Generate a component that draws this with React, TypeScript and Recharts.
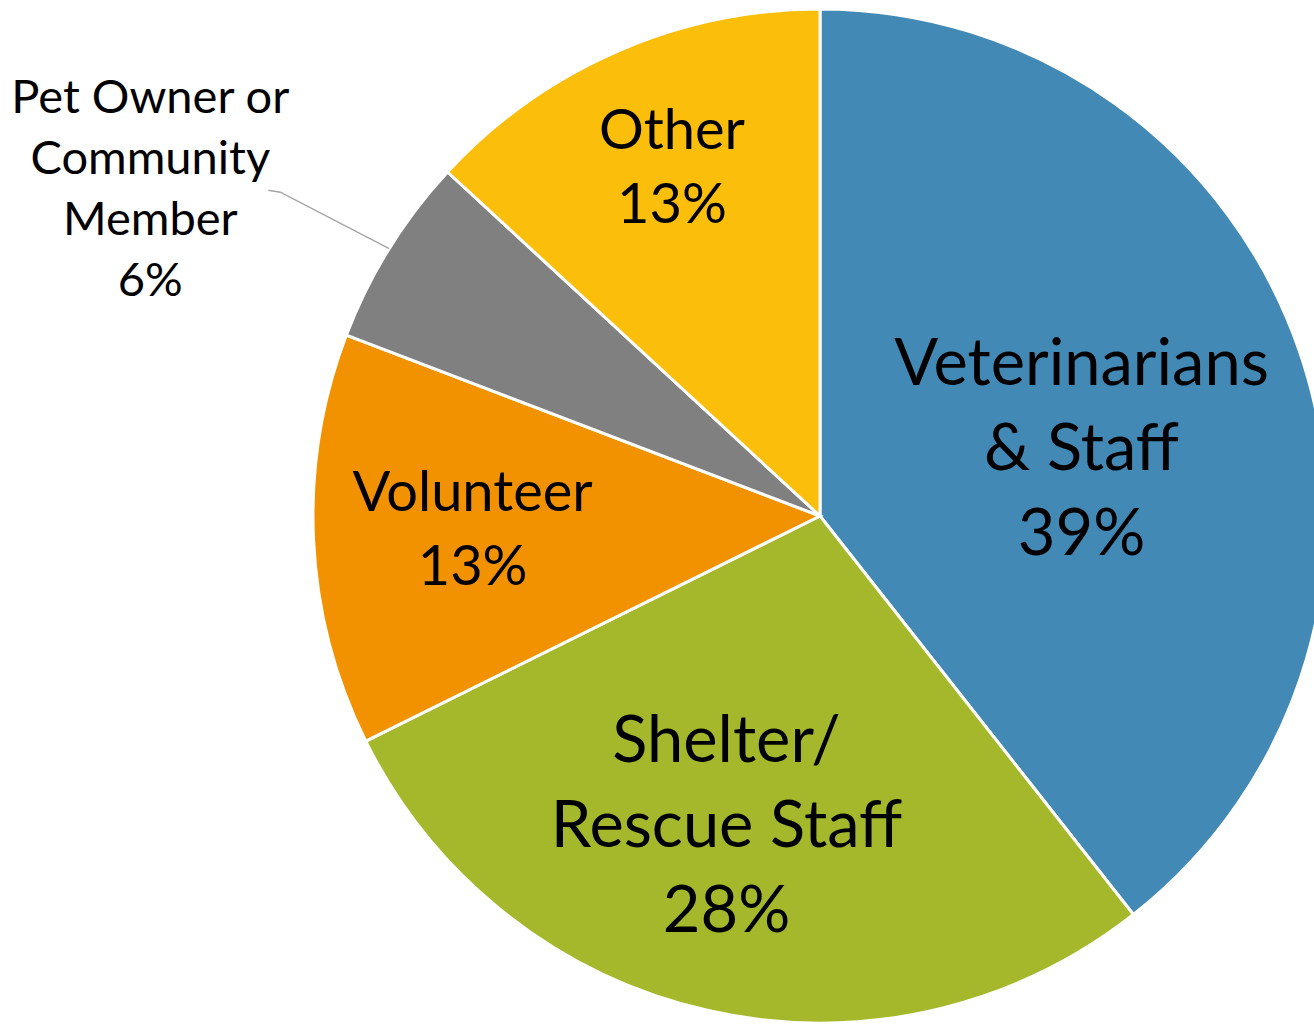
import React from 'react';
import { PieChart, Pie, Cell } from 'recharts';

const categories = [
  'Veterinarians & Staff',
  'Shelter/ Rescue Staff',
  'Volunteer',
  'Pet Owner or Community Member',
  'Other',
];
const values = [39, 28, 13, 6, 13];
const labelLines = [
  ['Veterinarians', '& Staff'],
  ['Shelter/', 'Rescue Staff'],
  ['Volunteer'],
  ['Pet Owner or', 'Community', 'Member'],
  ['Other'],
];
const colors = ['#4389B6', '#A5B82B', '#F39200', '#808080', '#FBBE0B'];

const data = categories.map((name, i) => ({ name, value: values[i] }));

// label placement: radial fraction of outer radius + nudges, font size, line height
const placement = [
  { r: 0.546, dx: 0, dy: 21, fs: 65, lh: 85 },
  { r: 0.622, dx: -24, dy: 0, fs: 65, lh: 85 },
  { r: 0.686, dx: 0, dy: -5, fs: 56, lh: 74 },
  { r: 1.32, dx: -101, dy: 25, fs: 47, lh: 61 },
  { r: 0.753, dx: 5, dy: 0, fs: 56, lh: 74 },
];

const RAD = Math.PI / 180;
const FONT = 'Lato, "Open Sans", sans-serif';

const renderLabel = (props: any) => {
  const { cx, cy, midAngle, outerRadius, index } = props;
  const p = placement[index];
  const cos = Math.cos(-midAngle * RAD);
  const sin = Math.sin(-midAngle * RAD);
  const x = cx + outerRadius * p.r * cos + p.dx;
  const y = cy + outerRadius * p.r * sin + p.dy;
  const lines = [...labelLines[index], `${values[index]}%`];
  const capH = p.fs * 0.7165;
  const first = y - ((lines.length - 1) * p.lh) / 2 + capH / 2;
  let leader = null;
  if (index === 3) {
    const ex = cx + outerRadius * cos;
    const ey = cy + outerRadius * sin;
    leader = (
      <polyline
        points={`${ex},${ey} ${x + 130},${y + 4} ${x + 118},${y + 2}`}
        fill="none"
        stroke="#A6A6A6"
        strokeWidth={1.5}
      />
    );
  }
  return (
    <g>
      {leader}
      <text
        x={x}
        y={first}
        textAnchor="middle"
        fill="#000"
        fontFamily={FONT}
        fontSize={p.fs}
      >
        {lines.map((l, i) => (
          <tspan key={i} x={x} y={first + i * p.lh}>
            {l}
          </tspan>
        ))}
      </text>
    </g>
  );
};

export default function App() {
  return (
    <div style={{ position: 'absolute', left: 0, top: 0, width: 1314, height: 1028, background: '#fff', overflow: 'hidden' }}>
      <PieChart width={1314} height={1028} margin={{ top: 0, right: 0, bottom: 0, left: 0 }}>
        <Pie
          data={data}
          dataKey="value"
          nameKey="name"
          cx={820}
          cy={516}
          outerRadius={507}
          startAngle={90}
          endAngle={-270}
          stroke="#fff"
          strokeWidth={3}
          label={renderLabel}
          labelLine={false}
          isAnimationActive={false}
        >
          {data.map((d, i) => (
            <Cell key={d.name} fill={colors[i]} />
          ))}
        </Pie>
      </PieChart>
    </div>
  );
}
